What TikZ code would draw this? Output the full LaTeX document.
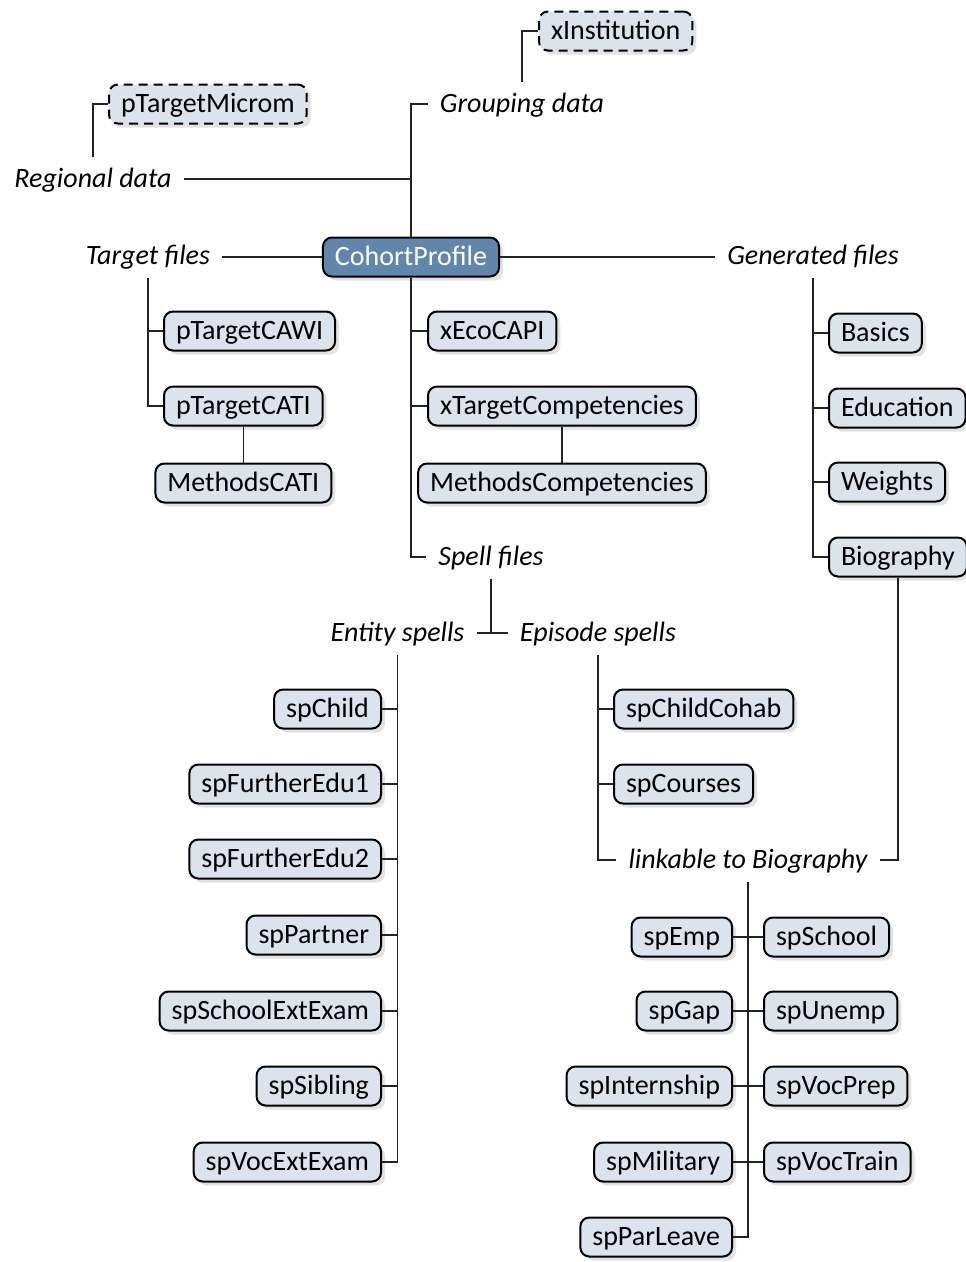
\documentclass[tikz,border=0pt]{standalone}
\usepackage{fontspec}
\setmainfont{Carlito}
\usetikzlibrary{shadows}
\definecolor{boxfill}{RGB}{219,227,237}
\definecolor{rootfill}{RGB}{96,135,171}
\definecolor{linecol}{RGB}{35,35,35}

\tikzset{
  wbox/.style={draw=black, line width=2pt, rounded corners=9pt, fill=boxfill,
    inner xsep=12pt, inner ysep=0pt, minimum height=39pt,
    font=\fontsize{28}{32}\selectfont, text height=22pt, text depth=6pt,
    drop shadow={shadow xshift=4pt, shadow yshift=-4pt, fill=black!22, draw=none}},
  dashbox/.style={wbox, dash pattern=on 9pt off 6pt},
  rootbox/.style={wbox, fill=rootfill, text=white},
  lbl/.style={inner xsep=12pt, inner ysep=0pt, minimum height=44pt,
    font=\fontsize{28}{32}\selectfont\itshape, text height=22pt, text depth=6pt},
  conn/.style={draw=linecol, line width=1.4pt},
}

\begin{document}
\begin{tikzpicture}[x=1pt,y=-1pt]
\fill[white] (0,0) rectangle (966,1262);
\useasboundingbox (0,0) rectangle (966,1262);

% root
\node[rootbox] (cp) at (411,257) {CohortProfile};

% upper branch
\node[lbl] (grouping) at (522,104) {Grouping data};
\node[dashbox, anchor=west] (xinst) at (538,31) {xInstitution};
\node[lbl] (regional) at (93,179) {Regional data};
\node[dashbox, anchor=west] (ptm) at (108,104) {pTargetMicrom};

% side branches
\node[lbl] (target) at (148,256) {Target files};
\node[lbl] (generated) at (813,256) {Generated files};

% target files
\node[wbox, anchor=west] (cawi) at (163,331) {pTargetCAWI};
\node[wbox, anchor=west] (cati) at (163,406) {pTargetCATI};
\node[wbox, anchor=north] (mcati) at ([yshift=-36pt]cati.south) {MethodsCATI};

% direct children below the root
\node[wbox, anchor=west] (eco) at (427,331) {xEcoCAPI};
\node[wbox, anchor=west] (xtc) at (427,406) {xTargetCompetencies};
\node[wbox, anchor=north] (mcomp) at ([yshift=-36pt]xtc.south) {MethodsCompetencies};
\node[lbl] (spell) at (491,557) {Spell files};

% generated files
\node[wbox, anchor=west] (basics) at (828,333) {Basics};
\node[wbox, anchor=west] (edu) at (828,408) {Education};
\node[wbox, anchor=west] (weights) at (828,482) {Weights};
\node[wbox, anchor=west] (bio) at (828,557) {Biography};

% spell files
\node[lbl] (entity) at (397.5,633) {Entity spells};
\node[lbl] (episode) at (598,633) {Episode spells};

\node[wbox, anchor=east] (spchild) at (382,709) {spChild};
\node[wbox, anchor=east] (spfe1) at (382,784) {spFurtherEdu1};
\node[wbox, anchor=east] (spfe2) at (382,859) {spFurtherEdu2};
\node[wbox, anchor=east] (sppartner) at (382,935) {spPartner};
\node[wbox, anchor=east] (spsee) at (382,1011) {spSchoolExtExam};
\node[wbox, anchor=east] (spsib) at (382,1086) {spSibling};
\node[wbox, anchor=east] (spvee) at (382,1162) {spVocExtExam};

\node[wbox, anchor=west] (spcc) at (613,709) {spChildCohab};
\node[wbox, anchor=west] (spcourses) at (613,784) {spCourses};
\node[lbl] (linkable) at (748,860) {linkable to Biography};

\node[wbox, anchor=east] (spemp) at (733,937) {spEmp};
\node[wbox, anchor=east] (spgap) at (733,1011) {spGap};
\node[wbox, anchor=east] (spint) at (733,1086) {spInternship};
\node[wbox, anchor=east] (spmil) at (733,1162) {spMilitary};
\node[wbox, anchor=east] (sppar) at (733,1237) {spParLeave};
\node[wbox, anchor=west] (spschool) at (763,937) {spSchool};
\node[wbox, anchor=west] (spunemp) at (763,1011) {spUnemp};
\node[wbox, anchor=west] (spvprep) at (763,1086) {spVocPrep};
\node[wbox, anchor=west] (spvtrain) at (763,1162) {spVocTrain};

% connectors
\draw[conn] (cp.north) |- (grouping.west);
\draw[conn] (regional.east) -- (regional.east -| cp.north);
\draw[conn] (grouping.north) |- (xinst.west);
\draw[conn] (regional.north) |- (ptm.west);
\draw[conn] (cp.west -| target.east) -- (cp.west);
\draw[conn] (cp.east) -- (cp.east -| generated.west);

\draw[conn] (target.south) |- (cawi.west);
\draw[conn] (target.south) |- (cati.west);
\draw[conn] (cati.south) -- (mcati.north);

\draw[conn] (cp.south) |- (eco.west);
\draw[conn] (cp.south) |- (xtc.west);
\draw[conn] (cp.south) |- (spell.west);
\draw[conn] (xtc.south) -- (xtc.south |- mcomp.north);

\foreach \n in {basics,edu,weights,bio}
  \draw[conn] (generated.south) |- (\n.west);

\draw[conn] (spell.south) -- (spell.south |- entity.east);
\draw[conn] (entity.east) -- (episode.west);

\foreach \n in {spchild,spfe1,spfe2,sppartner,spsee,spsib,spvee}
  \draw[conn] (entity.south) |- (\n.east);
\foreach \n in {spcc,spcourses,linkable}
  \draw[conn] (episode.south) |- (\n.west);
\draw[conn] (bio.south) |- (linkable.east);

\foreach \n in {spemp,spgap,spint,spmil,sppar}
  \draw[conn] (linkable.south) |- (\n.east);
\foreach \n in {spschool,spunemp,spvprep,spvtrain}
  \draw[conn] (linkable.south) |- (\n.west);
\end{tikzpicture}
\end{document}
